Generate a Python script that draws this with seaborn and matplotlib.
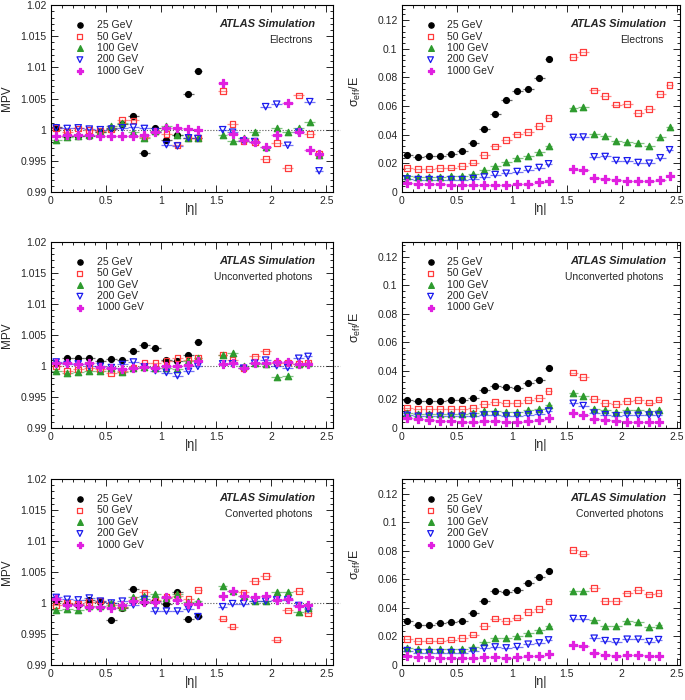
import numpy as np
import matplotlib
matplotlib.use("Agg")
import matplotlib.pyplot as plt
from matplotlib.ticker import MultipleLocator, FuncFormatter
import seaborn as sns

# --- |eta| binning (crack 1.37-1.52 excluded) ---
ETA_LO_ELE = [0.0, 0.1, 0.2, 0.3, 0.4, 0.5, 0.6, 0.7, 0.8, 0.9, 1.0, 1.1, 1.2, 1.3,
              1.52, 1.6, 1.7, 1.8, 1.9, 2.0, 2.1, 2.2, 2.3, 2.4]
ETA_HI_ELE = [0.1, 0.2, 0.3, 0.4, 0.5, 0.6, 0.7, 0.8, 0.9, 1.0, 1.1, 1.2, 1.3, 1.37,
              1.6, 1.7, 1.8, 1.9, 2.0, 2.1, 2.2, 2.3, 2.4, 2.47]
ETA_LO_PHO = [0.0, 0.1, 0.2, 0.3, 0.4, 0.5, 0.6, 0.7, 0.8, 0.9, 1.0, 1.1, 1.2, 1.3,
              1.52, 1.6, 1.7, 1.8, 1.9, 2.0, 2.1, 2.2, 2.3]
ETA_HI_PHO = [0.1, 0.2, 0.3, 0.4, 0.5, 0.6, 0.7, 0.8, 0.9, 1.0, 1.1, 1.2, 1.3, 1.37,
              1.6, 1.7, 1.8, 1.9, 2.0, 2.1, 2.2, 2.3, 2.37]

ENERGIES = ["25 GeV", "50 GeV", "100 GeV", "200 GeV", "1000 GeV"]

# --- Electrons ---
mpv_ele_25 = [1.0004, 0.9990, 0.9990, 0.9990, 0.9997, 1.0002, 1.0009, 1.0022, 0.9963, 1.0003, 0.9984, 0.9992, 1.0057, 1.0094]
mpv_ele_50 = [1.0003, 0.9997, 1.0002, 1.0000, 0.9998, 1.0001, 1.0016, 1.0015, 0.9988, 0.9997, 0.9993, 0.9976, 0.9987, 0.9987,
              1.0062, 1.0009, 0.9982, 0.9980, 0.9953, 0.9979, 0.9938, 1.0055, 0.9993, 0.9962]
mpv_ele_100 = [0.9983, 0.9989, 0.9990, 0.9991, 0.9997, 1.0006, 1.0010, 0.9997, 0.9987, 0.9998, 1.0006, 0.9992, 0.9987, 0.9987,
               0.9991, 0.9982, 0.9986, 0.9996, 0.9972, 1.0002, 0.9996, 1.0003, 1.0013, 0.9960]
mpv_ele_200 = [1.0003, 1.0002, 1.0003, 1.0001, 1.0000, 1.0001, 1.0003, 1.0004, 1.0002, 0.9997, 0.9976, 0.9974, 0.9987, 0.9986,
               1.0000, 0.9996, 0.9982, 0.9981, 1.0037, 1.0041, 0.9975, 0.9996, 1.0045, 0.9934]
mpv_ele_1000 = [0.9990, 0.9991, 0.9991, 0.9991, 0.9990, 0.9990, 0.9990, 0.9990, 0.9991, 0.9997, 1.0003, 1.0002, 1.0001, 1.0000,
                1.0075, 0.9993, 0.9983, 0.9980, 0.9972, 0.9991, 1.0043, 0.9997, 0.9968, 0.9961]

res_ele_25 = [0.0257, 0.0246, 0.0248, 0.0253, 0.0264, 0.0288, 0.0344, 0.0440, 0.0547, 0.0641, 0.0706, 0.0716, 0.0798, 0.0926]
res_ele_50 = [0.0168, 0.0161, 0.0161, 0.0166, 0.0171, 0.0180, 0.0206, 0.0260, 0.0318, 0.0365, 0.0402, 0.0421, 0.0463, 0.0519,
              0.0945, 0.0978, 0.0709, 0.0669, 0.0611, 0.0615, 0.0552, 0.0582, 0.0683, 0.0749]
res_ele_100 = [0.0112, 0.0108, 0.0105, 0.0108, 0.0110, 0.0115, 0.0129, 0.0157, 0.0182, 0.0210, 0.0234, 0.0253, 0.0281, 0.0320,
               0.0585, 0.0596, 0.0405, 0.0390, 0.0358, 0.0351, 0.0339, 0.0323, 0.0381, 0.0456]
res_ele_200 = [0.0091, 0.0087, 0.0087, 0.0087, 0.0087, 0.0087, 0.0094, 0.0105, 0.0122, 0.0131, 0.0143, 0.0157, 0.0171, 0.0197,
               0.0381, 0.0384, 0.0246, 0.0248, 0.0220, 0.0218, 0.0206, 0.0201, 0.0239, 0.0295]
res_ele_1000 = [0.0061, 0.0056, 0.0056, 0.0054, 0.0051, 0.0049, 0.0047, 0.0051, 0.0051, 0.0051, 0.0054, 0.0058, 0.0068, 0.0080,
                0.0161, 0.0157, 0.0096, 0.0091, 0.0082, 0.0080, 0.0080, 0.0075, 0.0087, 0.0110]

# --- Unconverted photons ---
mpv_unc_25 = [1.0005, 1.0013, 1.0013, 1.0012, 1.0008, 1.0011, 1.0010, 1.0024, 1.0033, 1.0029, 1.0009, 1.0008, 1.0018, 1.0039]
mpv_unc_50 = [0.9999, 0.9992, 0.9994, 0.9997, 0.9995, 0.9988, 0.9992, 0.9997, 1.0005, 1.0004, 1.0008, 1.0012, 1.0009, 1.0013,
              1.0018, 1.0010, 0.9996, 1.0015, 1.0023, 1.0005, 1.0005, 1.0003, 1.0005]
mpv_unc_100 = [0.9992, 0.9989, 0.9990, 0.9991, 0.9991, 0.9996, 0.9990, 0.9996, 0.9998, 0.9996, 0.9997, 0.9994, 1.0007, 1.0013,
               1.0018, 1.0020, 0.9999, 1.0004, 1.0003, 0.9982, 0.9984, 1.0002, 1.0005]
mpv_unc_200 = [1.0006, 1.0002, 1.0003, 0.9999, 0.9999, 0.9997, 1.0002, 1.0006, 0.9998, 0.9992, 0.9989, 0.9984, 0.9991, 0.9999,
               1.0003, 1.0003, 0.9996, 1.0004, 1.0009, 1.0000, 0.9997, 1.0012, 1.0015]
mpv_unc_1000 = [1.0005, 1.0005, 1.0003, 1.0004, 0.9998, 0.9996, 0.9995, 0.9996, 0.9998, 0.9997, 0.9999, 1.0000, 1.0001, 1.0007,
                1.0003, 1.0004, 0.9997, 1.0004, 1.0004, 1.0006, 1.0006, 1.0003, 1.0003]

res_unc_25 = [0.0197, 0.0188, 0.0188, 0.0188, 0.0192, 0.0197, 0.0209, 0.0265, 0.0295, 0.0286, 0.0279, 0.0317, 0.0335, 0.0417]
res_unc_50 = [0.0141, 0.0129, 0.0129, 0.0129, 0.0129, 0.0131, 0.0138, 0.0166, 0.0178, 0.0171, 0.0173, 0.0192, 0.0206, 0.0256,
              0.0387, 0.0356, 0.0199, 0.0173, 0.0164, 0.0188, 0.0195, 0.0176, 0.0197]
res_unc_100 = [0.0103, 0.0096, 0.0096, 0.0096, 0.0096, 0.0096, 0.0101, 0.0115, 0.0117, 0.0113, 0.0113, 0.0122, 0.0134, 0.0162,
               0.0244, 0.0223, 0.0131, 0.0122, 0.0113, 0.0124, 0.0124, 0.0117, 0.0127]
res_unc_200 = [0.0087, 0.0080, 0.0080, 0.0080, 0.0080, 0.0080, 0.0080, 0.0089, 0.0091, 0.0082, 0.0084, 0.0091, 0.0098, 0.0117,
               0.0171, 0.0155, 0.0103, 0.0091, 0.0084, 0.0089, 0.0087, 0.0089, 0.0089]
res_unc_1000 = [0.0068, 0.0059, 0.0054, 0.0049, 0.0047, 0.0042, 0.0042, 0.0047, 0.0047, 0.0042, 0.0042, 0.0047, 0.0054, 0.0070,
                0.0101, 0.0089, 0.0059, 0.0052, 0.0045, 0.0042, 0.0042, 0.0042, 0.0042]

# --- Converted photons ---
mpv_cnv_25 = [1.0004, 0.9998, 0.9997, 1.0005, 1.0002, 0.9973, 0.9992, 1.0022, 1.0001, 1.0004, 0.9998, 1.0017, 0.9974, 0.9979]
mpv_cnv_50 = [0.9996, 1.0000, 0.9999, 1.0002, 1.0004, 0.9997, 0.9993, 1.0005, 1.0017, 1.0005, 1.0010, 1.0011, 1.0006, 1.0021,
              0.9975, 0.9962, 1.0017, 1.0035, 1.0043, 0.9941, 0.9988, 1.0019, 0.9984]
mpv_cnv_100 = [0.9989, 0.9990, 0.9989, 0.9995, 0.9995, 1.0000, 0.9994, 1.0009, 1.0012, 1.0014, 1.0008, 1.0015, 1.0001, 1.0003,
               1.0028, 1.0019, 1.0012, 1.0003, 1.0003, 1.0017, 1.0018, 0.9985, 0.9992]
mpv_cnv_200 = [1.0009, 1.0006, 1.0005, 1.0008, 1.0003, 1.0000, 1.0003, 0.9997, 1.0006, 0.9987, 0.9987, 0.9987, 0.9990, 0.9978,
               0.9994, 0.9999, 0.9999, 1.0003, 1.0003, 1.0005, 1.0005, 0.9996, 0.9990]
mpv_cnv_1000 = [1.0006, 0.9997, 0.9997, 0.9994, 0.9993, 0.9992, 0.9996, 1.0003, 1.0002, 1.0002, 1.0009, 1.0005, 0.9999, 0.9998,
                1.0012, 1.0019, 1.0011, 1.0009, 1.0011, 1.0005, 1.0006, 0.9995, 0.9996]

res_cnv_25 = [0.0310, 0.0284, 0.0282, 0.0296, 0.0305, 0.0312, 0.0366, 0.0451, 0.0519, 0.0514, 0.0523, 0.0575, 0.0615, 0.0660]
res_cnv_50 = [0.0183, 0.0169, 0.0171, 0.0171, 0.0178, 0.0188, 0.0214, 0.0272, 0.0326, 0.0310, 0.0333, 0.0371, 0.0392, 0.0446,
              0.0805, 0.0782, 0.0540, 0.0451, 0.0451, 0.0502, 0.0526, 0.0495, 0.0505]
res_cnv_100 = [0.0122, 0.0115, 0.0115, 0.0115, 0.0115, 0.0115, 0.0129, 0.0160, 0.0188, 0.0188, 0.0200, 0.0225, 0.0244, 0.0277,
               0.0519, 0.0516, 0.0317, 0.0275, 0.0275, 0.0310, 0.0305, 0.0265, 0.0282]
res_cnv_200 = [0.0101, 0.0087, 0.0087, 0.0087, 0.0087, 0.0087, 0.0096, 0.0117, 0.0127, 0.0120, 0.0129, 0.0146, 0.0155, 0.0176,
               0.0326, 0.0324, 0.0188, 0.0171, 0.0162, 0.0181, 0.0181, 0.0164, 0.0178]
res_cnv_1000 = [0.0063, 0.0054, 0.0054, 0.0052, 0.0049, 0.0049, 0.0047, 0.0054, 0.0054, 0.0052, 0.0054, 0.0061, 0.0066, 0.0077,
                0.0143, 0.0134, 0.0082, 0.0073, 0.0063, 0.0068, 0.0068, 0.0063, 0.0066]

# stil markera po energiji
COLORS = ["black", "#ff3b3b", "#2e9b2e", "#1a1aee", "#e020e0"]
MARKERS = ["o", "s", "^", "v", "P"]
FILLED = [True, False, True, False, True]
SIZES = [18, 17, 21, 21, 26]

sns.set_style("ticks")
plt.rcParams["font.family"] = ["Liberation Sans", "DejaVu Sans"]
plt.rcParams["mathtext.fontset"] = "custom"
plt.rcParams["mathtext.rm"] = "Liberation Sans"
plt.rcParams["mathtext.it"] = "Liberation Sans:italic"


def draw_panel(ax, lo, hi, series, kind, particle):
    lo = np.array(lo)
    hi = np.array(hi)
    centers = (lo + hi) / 2
    half = (hi - lo) / 2

    if kind == "mpv":
        # isprekidana linija na 1, izlazi malo van okvira kao u originalu
        ax.plot([0, 2.62], [1, 1], color="#555555", lw=0.8, ls=(0, (1, 1.6)),
                clip_on=False, zorder=1)

    for vals, lab, col, mk, filled, s in zip(series, ENERGIES, COLORS, MARKERS, FILLED, SIZES):
        n = len(vals)
        x = centers[:n]
        ax.errorbar(x, vals, xerr=half[:n], fmt="none", ecolor=col,
                    elinewidth=0.9, alpha=0.6, zorder=2)
        if filled:
            face = dict(color=col, edgecolor=col)
        else:
            face = dict(facecolors="none", edgecolor=col)
        sns.scatterplot(x=x, y=vals, ax=ax, marker=mk, s=s, linewidth=0.9,
                        label=lab, legend=False, zorder=3, **face)

    if kind == "mpv":
        ax.set_xlim(0, 2.56)
        ax.set_ylim(0.99, 1.02)
        ax.yaxis.set_major_locator(MultipleLocator(0.005))
        ax.yaxis.set_minor_locator(MultipleLocator(0.001))
        ax.set_ylabel("MPV", fontsize=8.5)
        ax.yaxis.set_label_coords(-0.135, 0.5)
    else:
        ax.set_xlim(0, 2.53)
        ax.set_ylim(0, 0.1305)
        ax.yaxis.set_major_locator(MultipleLocator(0.02))
        ax.yaxis.set_minor_locator(MultipleLocator(0.004))
        ax.set_ylabel("σ$_{\\rm eff}$/E", fontsize=9)
        ax.yaxis.set_label_coords(-0.14, 0.54)

    ax.xaxis.set_major_locator(MultipleLocator(0.5))
    ax.xaxis.set_minor_locator(MultipleLocator(0.1))
    fmt = FuncFormatter(lambda v, p: f"{v:g}")
    ax.xaxis.set_major_formatter(fmt)
    ax.yaxis.set_major_formatter(fmt)
    ax.set_xlabel("|η|", fontsize=9)
    ax.xaxis.set_label_coords(0.5, -0.06)

    ax.tick_params(which="both", direction="in", top=True, right=True,
                   width=0.7, labelsize=7.5)
    ax.tick_params(which="major", length=5, pad=3)
    ax.tick_params(which="minor", length=2.5)
    for sp in ax.spines.values():
        sp.set_linewidth(0.8)
        sp.set_color("black")

    handles, labels = ax.get_legend_handles_labels()
    ax.legend(handles, labels, loc="upper left", bbox_to_anchor=(0.085, 0.92),
              frameon=False, fontsize=7.5, handlelength=1.0, handletextpad=1.1,
              labelspacing=0.14, borderaxespad=0, borderpad=0, scatterpoints=1,
              markerscale=0.9)

    xr = 0.936 if kind == "mpv" else 0.949
    ax.text(xr, 0.898, "ATLAS Simulation", transform=ax.transAxes, ha="right",
            va="center", fontsize=8, fontweight="bold", fontstyle="italic")
    ax.text(xr - 0.01, 0.812, particle, transform=ax.transAxes, ha="right",
            va="center", fontsize=7.5)


fig = plt.figure(figsize=(6.85, 7.0), dpi=100)

left_x, left_w = 0.074, 0.412
right_x, right_w = 0.5864, 0.4063
rows = [(0.7257, 0.267), (0.389, 0.2657), (0.05, 0.2657)]

panels = [
    ("Electrons", ETA_LO_ELE, ETA_HI_ELE,
     [mpv_ele_25, mpv_ele_50, mpv_ele_100, mpv_ele_200, mpv_ele_1000],
     [res_ele_25, res_ele_50, res_ele_100, res_ele_200, res_ele_1000]),
    ("Unconverted photons", ETA_LO_PHO, ETA_HI_PHO,
     [mpv_unc_25, mpv_unc_50, mpv_unc_100, mpv_unc_200, mpv_unc_1000],
     [res_unc_25, res_unc_50, res_unc_100, res_unc_200, res_unc_1000]),
    ("Converted photons", ETA_LO_PHO, ETA_HI_PHO,
     [mpv_cnv_25, mpv_cnv_50, mpv_cnv_100, mpv_cnv_200, mpv_cnv_1000],
     [res_cnv_25, res_cnv_50, res_cnv_100, res_cnv_200, res_cnv_1000]),
]

for (b, h), (name, lo, hi, mpv, res) in zip(rows, panels):
    ax_l = fig.add_axes([left_x, b, left_w, h])
    draw_panel(ax_l, lo, hi, mpv, "mpv", name)
    ax_r = fig.add_axes([right_x, b, right_w, h])
    draw_panel(ax_r, lo, hi, res, "res", name)

fig.savefig("out.png", dpi=100)
